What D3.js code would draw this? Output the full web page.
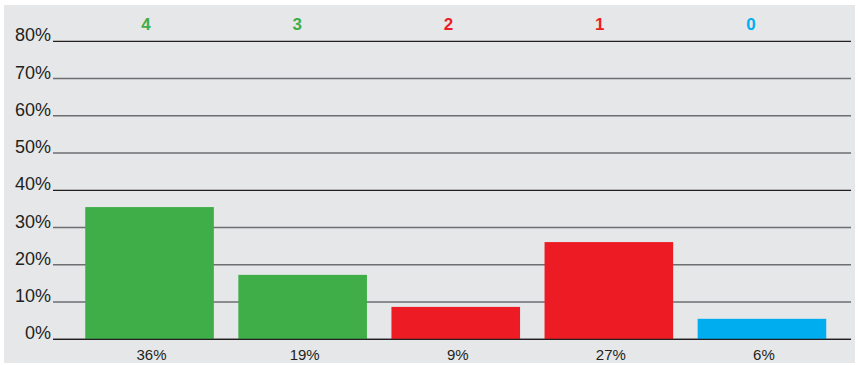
<!DOCTYPE html>
<html>
<head>
<meta charset="utf-8">
<script src="https://cdn.jsdelivr.net/npm/d3@7"></script>
<style>
  body { margin: 0; background: #fff; }
  svg { display: block; font-family: "Liberation Sans", Arial, sans-serif; }
</style>
</head>
<body>
<div id="chart"></div>
<script>
// scores shown above each column, share of answers per score
const scores = ['4', '3', '2', '1', '0'];
const shares = [35.5, 17.3, 8.7, 26.1, 5.5];
const shareLabels = ['36%', '19%', '9%', '27%', '6%'];
const scoreColors = ['#3fae49', '#3fae49', '#ed1c24', '#ed1c24', '#00aeef'];
const yTicks = [0, 10, 20, 30, 40, 50, 60, 70, 80];

const width = 858, height = 365;

const svg = d3.select('#chart').append('svg')
  .attr('width', width)
  .attr('height', height);

// grey panel
svg.append('rect')
  .attr('x', 4).attr('y', 5)
  .attr('width', 851).attr('height', 358)
  .attr('fill', '#e6e7e9');

const x = d3.scaleBand()
  .domain(scores)
  .range([73, 838.5])
  .paddingInner(0.16)
  .paddingOuter(0.08);

// top score labels sit a little left of the bar centres
const xTop = d3.scalePoint()
  .domain(scores)
  .range([146, 751]);

const y = d3.scaleLinear()
  .domain([0, 80])
  .range([339.3, 41.3]);

// grid lines
svg.append('g')
  .selectAll('line')
  .data(yTicks)
  .join('line')
  .attr('x1', 53).attr('x2', 851)
  .attr('y1', d => y(d)).attr('y2', d => y(d))
  .attr('stroke', d => (d % 40 === 0) ? '#231f20' : '#6d6e71')
  .attr('stroke-width', d => (d % 40 === 0) ? 1.3 : 1.5);

// y labels
svg.append('g')
  .selectAll('text')
  .data(yTicks)
  .join('text')
  .attr('x', 51)
  .attr('y', d => y(d))
  .attr('text-anchor', 'end')
  .attr('fill', '#231f20')
  .style('font-size', '18px')
  .text(d => d + '%');

// bars
svg.append('g')
  .selectAll('rect')
  .data(scores)
  .join('rect')
  .attr('x', d => x(d))
  .attr('width', x.bandwidth())
  .attr('y', (d, i) => y(shares[i]))
  .attr('height', (d, i) => y(0) - y(shares[i]))
  .attr('fill', (d, i) => scoreColors[i]);

// baseline over the bars
svg.append('line')
  .attr('x1', 53).attr('x2', 851)
  .attr('y1', y(0)).attr('y2', y(0))
  .attr('stroke', '#231f20')
  .attr('stroke-width', 1.3);

// score labels on top
svg.append('g')
  .selectAll('text')
  .data(scores)
  .join('text')
  .attr('x', d => xTop(d))
  .attr('y', 30)
  .attr('text-anchor', 'middle')
  .attr('fill', (d, i) => scoreColors[i])
  .style('font-size', '17px')
  .style('font-weight', 'bold')
  .text(d => d);

// percent labels under bars
svg.append('g')
  .selectAll('text')
  .data(scores)
  .join('text')
  .attr('x', d => x(d) + x.bandwidth() / 2 + 2)
  .attr('y', 360)
  .attr('text-anchor', 'middle')
  .attr('fill', '#231f20')
  .style('font-size', '15px')
  .text((d, i) => shareLabels[i]);
</script>
</body>
</html>
